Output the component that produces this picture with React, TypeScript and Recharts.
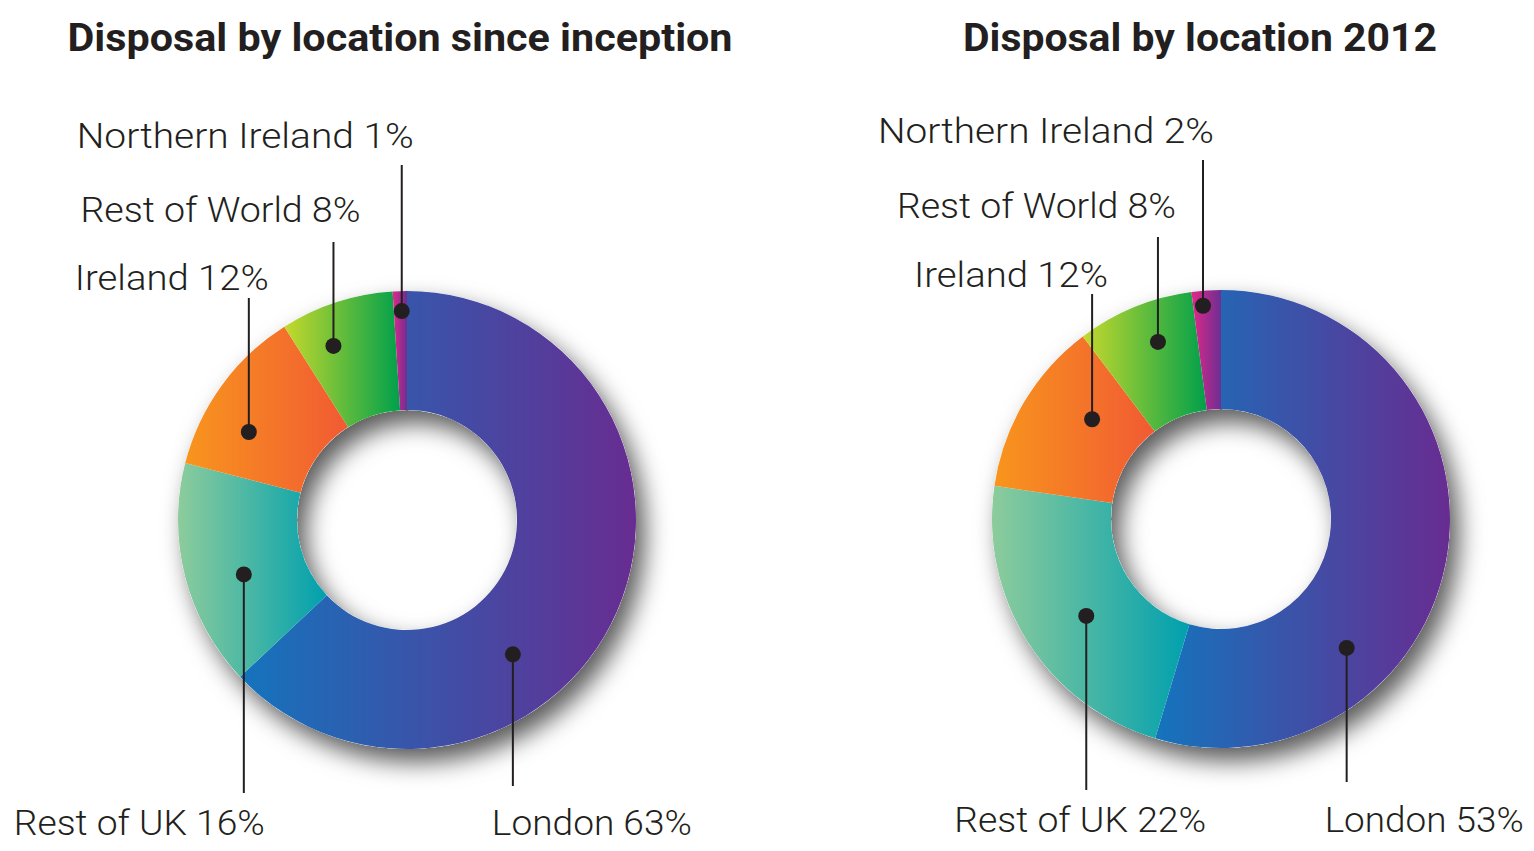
import React from 'react';
import { PieChart, Pie, Cell } from 'recharts';

// slices run clockwise from 12 o'clock
const categories = ['London', 'Rest of UK', 'Ireland', 'Rest of World', 'Northern Ireland'];
const sinceInception = [63, 16, 12, 8, 1];
const year2012 = [53, 22, 12, 8, 2];
const chartTitles = ['Disposal by location since inception', 'Disposal by location 2012'];

// left -> right colour of each slice
const sliceGradients = [
  ['#1474bd', '#682c91'],
  ['#8dcc9c', '#00a0ae'],
  ['#f8951d', '#f15a33'],
  ['#c6d92c', '#00a04b'],
  ['#e2288a', '#6c2f91'],
];

const inceptionData = categories.map((name, i) => ({ name, value: sinceInception[i] }));
const data2012 = categories.map((name, i) => ({ name, value: year2012[i] }));
const ring = [{ name: 'ring', value: 1 }];

const INK = '#231f20';
const RADIAN = Math.PI / 180;
const LABEL_FONT = 'Roboto, "Noto Sans", sans-serif';

// where each callout sits: fraction along the slice, dot radius, line end and text offsets
type Callout = { at: number; r: number; lineTo: number; dx: number; ty: number; anchor: 'start' | 'end'; w: number };

const inceptionCallouts: Callout[] = [
  { at: 0.625, r: 171, lineTo: 266, dx: -21, ty: 315, anchor: 'start', w: 200 },
  { at: 0.43, r: 172, lineTo: 273, dx: 21, ty: 315, anchor: 'end', w: 251 },
  { at: 0.34, r: 181, lineTo: -222, dx: 20, ty: -230, anchor: 'end', w: 194 },
  { at: 0.33, r: 189, lineTo: -278, dx: 27, ty: -298, anchor: 'end', w: 280 },
  { at: 0.6, r: 209, lineTo: -355, dx: 12, ty: -372, anchor: 'end', w: 337 },
];

const callouts2012: Callout[] = [
  { at: 0.69, r: 180, lineTo: 263, dx: -22, ty: 313, anchor: 'start', w: 199 },
  { at: 0.46, r: 166, lineTo: 271, dx: 120, ty: 313, anchor: 'end', w: 252 },
  { at: 0.66, r: 163, lineTo: -225, dx: 16, ty: -232, anchor: 'end', w: 194 },
  { at: 0.59, r: 188, lineTo: -282, dx: 18, ty: -301, anchor: 'end', w: 279 },
  { at: 0.35, r: 214, lineTo: -359, dx: 11, ty: -376, anchor: 'end', w: 336 },
];

function makeLabel(layout: Callout[]) {
  return (props: any) => {
    const { cx, cy, startAngle, endAngle, index, name, value } = props;
    const c = layout[index];
    const a = startAngle + (endAngle - startAngle) * c.at;
    const x = cx + c.r * Math.cos(-a * RADIAN);
    const y = cy + c.r * Math.sin(-a * RADIAN);
    return (
      <g key={`callout-${index}`}>
        <line x1={x} y1={y} x2={x} y2={cy + c.lineTo} stroke={INK} strokeWidth={2} />
        <circle cx={x} cy={y} r={8} fill={INK} />
        <text
          x={x + c.dx}
          y={cy + c.ty}
          textAnchor={c.anchor}
          fill={INK}
          fontFamily={LABEL_FONT}
          fontWeight={300}
          fontSize={35}
          textLength={c.w}
          lengthAdjust="spacingAndGlyphs"
        >
          {`${name} ${value}%`}
        </text>
      </g>
    );
  };
}

export default function App() {
  const donuts = [
    { data: inceptionData, cx: 407, cy: 520, layout: inceptionCallouts },
    { data: data2012, cx: 1221, cy: 519, layout: callouts2012 },
  ];

  return (
    <div style={{ position: 'absolute', left: 0, top: 0, width: 1534, height: 851, background: '#fff' }}>
      <PieChart width={1534} height={851} margin={{ top: 0, right: 0, bottom: 0, left: 0 }}>
        <defs>
          <filter id="ringShadow" x="-25%" y="-25%" width="150%" height="150%">
            <feDropShadow dx={9} dy={13} stdDeviation={12} floodColor="#000" floodOpacity={0.65} />
          </filter>
          {sliceGradients.map(([from, to], i) => (
            <linearGradient key={i} id={`slice${i}`} x1="0" y1="0" x2="1" y2="0">
              <stop offset="0%" stopColor={from} />
              <stop offset="100%" stopColor={to} />
            </linearGradient>
          ))}
        </defs>
        {donuts.map((d, k) => (
          <Pie
            key={`shadow${k}`}
            data={ring}
            dataKey="value"
            cx={d.cx}
            cy={d.cy}
            innerRadius={110}
            outerRadius={229}
            startAngle={90}
            endAngle={-270}
            stroke="none"
            isAnimationActive={false}
          >
            <Cell fill="#ffffff" filter="url(#ringShadow)" />
          </Pie>
        ))}
        {donuts.map((d, k) => (
          <Pie
            key={`pie${k}`}
            data={d.data}
            dataKey="value"
            nameKey="name"
            cx={d.cx}
            cy={d.cy}
            innerRadius={110}
            outerRadius={229}
            startAngle={90}
            endAngle={-270}
            stroke="none"
            labelLine={false}
            label={makeLabel(d.layout)}
            isAnimationActive={false}
          >
            {d.data.map((entry, i) => (
              <Cell key={entry.name} fill={`url(#slice${i})`} />
            ))}
          </Pie>
        ))}
      </PieChart>
      <svg width={1534} height={80} style={{ position: 'absolute', left: 0, top: 0, pointerEvents: 'none' }}>
        <text
          x={400}
          y={51}
          textAnchor="middle"
          fill={INK}
          fontFamily={LABEL_FONT}
          fontWeight={700}
          fontSize={39}
          textLength={665}
          lengthAdjust="spacingAndGlyphs"
        >
          {chartTitles[0]}
        </text>
        <text
          x={1200}
          y={51}
          textAnchor="middle"
          fill={INK}
          fontFamily={LABEL_FONT}
          fontWeight={700}
          fontSize={39}
          textLength={474}
          lengthAdjust="spacingAndGlyphs"
        >
          {chartTitles[1]}
        </text>
      </svg>
    </div>
  );
}
